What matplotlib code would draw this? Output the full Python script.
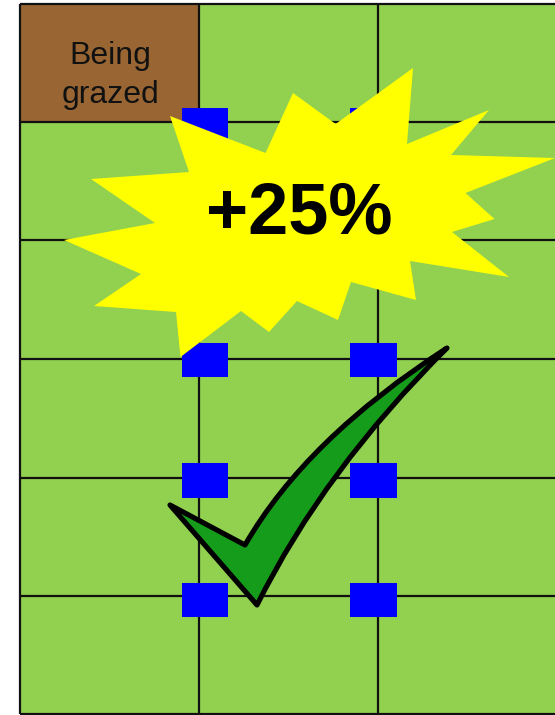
import matplotlib
matplotlib.use("Agg")
import matplotlib.pyplot as plt
from matplotlib.patches import Polygon, Rectangle, PathPatch
from matplotlib.path import Path

plt.rcParams['font.family'] = ['Liberation Sans', 'DejaVu Sans']

# everything in pixels
col_edges = [20, 199, 378, 556]
row_edges = [4, 122, 240, 359, 478, 596, 714]
marker_x = [[182, 228], [350, 397]]
marker_y = [[108, 142], [343, 377], [463, 498], [583, 617]]
grazed_lines = ["Being", "grazed"]
grazed_baselines = [64, 103]
burst_label = "+25%"

burst = [(170, 116), (265.5, 153), (293, 93), (335.6, 124), (413, 68), (407, 144),
         (489, 110), (451, 155), (555, 158), (465.5, 193), (494.5, 219), (452, 232),
         (509, 277), (410, 261), (416, 300), (351, 282), (338, 320), (297, 301),
         (269, 332), (241, 311), (180.5, 357), (176, 312), (94, 306), (141, 274),
         (64, 240), (155, 223), (91, 179), (189, 172)]

# tick mark outline: corners and the two control points of its curved sides
check_pts = [(170, 505), (245, 545), (306, 439), (447, 348), (324, 470), (257, 605), (170, 505)]
check_codes = [Path.MOVETO, Path.LINETO, Path.CURVE3, Path.CURVE3, Path.CURVE3, Path.CURVE3,
               Path.CLOSEPOLY]

fig = plt.figure(figsize=(5.55, 7.15), dpi=100)
ax = fig.add_axes([0, 0, 1, 1])
ax.set_xlim(0, 555)
ax.set_ylim(715, 0)
ax.axis('off')

ax.add_patch(Rectangle((col_edges[0], row_edges[0]), col_edges[-1] - col_edges[0],
                       row_edges[-1] - row_edges[0], fc='#92D050', ec='none', zorder=1))
ax.add_patch(Rectangle((col_edges[0], row_edges[0]), col_edges[1] - col_edges[0],
                       row_edges[1] - row_edges[0], fc='#996633', ec='none', zorder=2))

for x in col_edges[:-1]:
    ax.plot([x, x], [row_edges[0], row_edges[-1]], color='#111111', lw=1.6, zorder=3,
            solid_capstyle='butt')
for y in row_edges:
    ax.plot([col_edges[0], col_edges[-1]], [y, y], color='#111111', lw=1.6, zorder=3,
            solid_capstyle='butt')

for x0, x1 in marker_x:
    for y0, y1 in marker_y:
        ax.add_patch(Rectangle((x0, y0), x1 - x0, y1 - y0, fc='#0000FF', ec='none', zorder=4))

for line, y in zip(grazed_lines, grazed_baselines):
    ax.text((col_edges[0] + col_edges[1]) / 2 + 1, y, line, ha='center', va='baseline',
            fontsize=23, color='#111111', zorder=5)

ax.add_patch(PathPatch(Path(check_pts, check_codes), fc='#149C1A', ec='black', lw=3.7,
                       joinstyle='round', zorder=5))
ax.add_patch(Polygon(burst, closed=True, fc='#FFFF00', ec='none', zorder=6))
ax.text(299.5, 233, burst_label, ha='center', va='baseline', fontsize=52,
        fontweight='bold', color='black', zorder=7)

fig.savefig('out.png', dpi=100, facecolor='white')
